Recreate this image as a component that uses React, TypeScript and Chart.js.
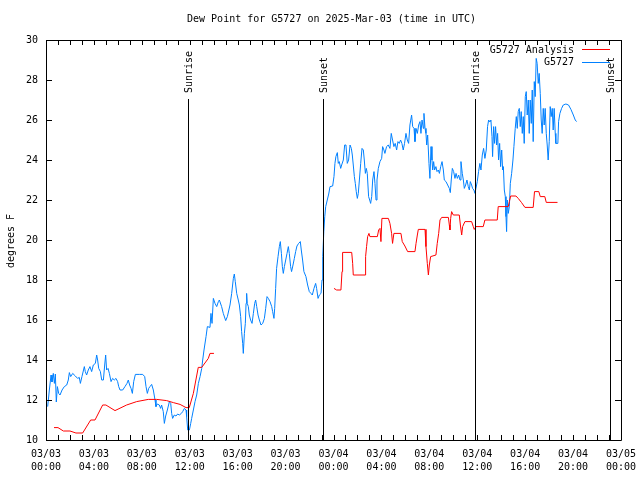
import React, { useEffect, useRef } from "react";
import { Chart, registerables } from "chart.js";

Chart.register(...registerables);

const TITLE = "Dew Point for G5727 on 2025-Mar-03 (time in UTC)";
const Y_LABEL = "degrees F";
const FONT = "'DejaVu Sans Mono', 'Liberation Mono', monospace";

const xTickDates = ["03/03", "03/03", "03/03", "03/03", "03/03", "03/03", "03/04", "03/04", "03/04", "03/04", "03/04", "03/04", "03/05"];
const xTickTimes = ["00:00", "04:00", "08:00", "12:00", "16:00", "20:00", "00:00", "04:00", "08:00", "12:00", "16:00", "20:00", "00:00"];

const sunEventHours = [11.83, 23.15, 35.84, 47.1];
const sunEventLabels = ["Sunrise", "Sunset", "Sunrise", "Sunset"];

const seriesNames = ["G5727 Analysis", "G5727"];
const seriesColors = ["#ff0000", "#0080ff"];

// hours since 03/03 00:00 UTC
const analysisHours = [
  0.67, 1.0, 1.45, 2.0, 2.5, 3.06, 3.73, 4.09, 4.73, 5.0, 5.76, 6.73, 7.57, 8.54, 9.24, 10.07, 10.63, 11.19, 11.69, 11.96,
  12.3, 12.71, 13.0, 13.55, 13.69, 14.02, 19.0,
  24.04, 24.26, 24.62, 24.71, 24.76, 25.52, 25.6, 25.65, 26.63, 26.68, 26.76, 26.85, 26.96, 27.04, 27.66, 27.77, 27.88, 27.96,
  28.04, 28.58, 28.71, 28.85, 28.93, 29.04, 29.63, 29.74, 29.96, 30.19, 30.8, 30.89, 31.0, 31.08, 31.64, 31.72, 31.83, 31.92,
  32.0, 32.11, 32.55, 32.66, 32.78, 32.89, 33.03, 33.59, 33.67, 33.72, 33.78, 33.86, 34.0, 34.5, 34.59, 34.7, 34.78, 34.97,
  35.53, 35.67, 35.75, 35.89, 36.5, 36.64, 37.67, 37.75, 38.59, 38.68, 38.79, 39.23, 39.42, 39.7, 39.98, 40.67, 40.78, 41.14,
  41.26, 41.64, 41.76, 42.7,
];
const analysisValues = [
  10.62, 10.62, 10.45, 10.45, 10.35, 10.35, 11.0, 11.0, 11.75, 11.75, 11.47, 11.75, 11.92, 12.03, 12.03, 11.97, 11.87, 11.78, 11.62, 11.62,
  12.33, 13.63, 13.63, 14.08, 14.33, 14.33, null,
  17.58, 17.5, 17.5, 18.42, 19.38, 19.38, 18.83, 18.25, 18.25, 19.17, 19.67, 20.17, 20.33, 20.17, 20.17, 20.5, 20.58, 19.92,
  21.08, 21.08, 20.83, 20.33, 19.83, 20.33, 20.33, 19.92, 19.7, 19.42, 19.42, 19.83, 20.25, 20.53, 20.53, 19.67, 18.83, 18.25,
  18.75, 19.17, 19.25, 19.83, 20.33, 21.0, 21.13, 21.13, 20.75, 20.5, 21.08, 21.42, 21.25, 21.25, 20.75, 20.25, 20.67, 20.92,
  20.92, 20.67, 20.53, 20.67, 20.67, 21.0, 21.0, 21.67, 21.67, 21.92, 22.2, 22.2, 22.08, 21.87, 21.63, 21.63, 22.42, 22.42,
  22.17, 22.17, 21.88, 21.88,
];

const stationHours = [
  0.14, 0.28, 0.42, 0.5, 0.61, 0.7, 0.78, 0.86, 0.95, 1.06, 1.17, 1.34, 1.53, 1.73, 1.86, 1.95, 2.06, 2.23, 2.45, 2.64,
  2.78, 2.87, 3.0, 3.2, 3.28, 3.39, 3.53, 3.67, 3.81, 3.95, 4.12, 4.23, 4.31, 4.4, 4.54, 4.65, 4.79, 4.9, 4.98, 5.06,
  5.18, 5.29, 5.43, 5.56, 5.7, 5.84, 5.98, 6.07, 6.18, 6.4, 6.59, 6.76, 6.87, 6.98, 7.1, 7.21, 7.32, 7.46, 7.79, 8.07,
  8.24, 8.35, 8.46, 8.57, 8.68, 8.82, 8.96, 9.1, 9.18, 9.29, 9.46, 9.57, 9.65, 9.79, 9.88, 9.99, 10.13, 10.3, 10.41, 10.49,
  10.57, 10.71, 10.85, 10.99, 11.13, 11.3, 11.41, 11.55, 11.69, 11.74, 11.83, 11.97, 12.08, 12.16, 12.3, 12.44, 12.58, 12.72, 12.86, 13.0,
  13.08, 13.19, 13.36, 13.47, 13.69, 13.77, 13.86, 13.97, 14.11, 14.25, 14.39, 14.47, 14.66, 14.8, 15.0, 15.14, 15.36, 15.5, 15.64, 15.72,
  15.8, 15.92, 16.05, 16.14, 16.25, 16.33, 16.42, 16.47, 16.56, 16.64, 16.7, 16.75, 16.8, 16.89, 16.97, 17.08, 17.2, 17.31, 17.42, 17.5,
  17.59, 17.7, 17.81, 17.95, 18.09, 18.23, 18.34, 18.45, 18.56, 18.7, 18.84, 18.92, 19.03, 19.09, 19.17, 19.25, 19.37, 19.48, 19.56, 19.65,
  19.73, 19.81, 19.9, 20.01, 20.12, 20.23, 20.31, 20.42, 20.5, 20.62, 20.73, 20.84, 20.95, 21.09, 21.23, 21.31, 21.42, 21.53, 21.7, 21.84,
  21.98, 22.12, 22.23, 22.37, 22.51, 22.59, 22.71, 22.82, 22.96, 23.04, 23.1, 23.19, 23.27, 23.35, 23.48, 23.6, 23.71, 23.93, 24.04, 24.12,
  24.2, 24.32, 24.4, 24.48, 24.6, 24.68, 24.82, 24.93, 25.04, 25.15, 25.26, 25.38, 25.49, 25.57, 25.65, 25.74, 25.82, 25.9, 25.99, 26.07,
  26.16, 26.27, 26.38, 26.49, 26.57, 26.66, 26.74, 26.82, 26.93, 27.02, 27.1, 27.19, 27.27, 27.38, 27.46, 27.55, 27.63, 27.74, 27.88, 28.02,
  28.1, 28.21, 28.29, 28.43, 28.57, 28.71, 28.82, 28.93, 29.04, 29.15, 29.27, 29.38, 29.49, 29.6, 29.71, 29.82, 29.93, 30.05, 30.16, 30.27,
  30.38, 30.52, 30.61, 30.72, 30.8, 30.89, 31.0, 31.11, 31.22, 31.3, 31.39, 31.5, 31.55, 31.64, 31.72, 31.78, 31.86, 31.97, 32.05, 32.14,
  32.22, 32.28, 32.36, 32.44, 32.55, 32.64, 32.75, 32.84, 32.95, 33.06, 33.17, 33.25, 33.39, 33.53, 33.67, 33.75, 33.83, 33.92, 34.03, 34.14,
  34.23, 34.34, 34.45, 34.56, 34.64, 34.75, 34.84, 34.92, 35.03, 35.14, 35.25, 35.34, 35.42, 35.53, 35.61, 35.72, 35.81, 35.89, 36.0, 36.11,
  36.22, 36.31, 36.42, 36.53, 36.64, 36.75, 36.86, 36.95, 37.06, 37.14, 37.23, 37.28, 37.37, 37.45, 37.53, 37.62, 37.7, 37.78, 37.87, 37.95,
  38.04, 38.12, 38.18, 38.26, 38.34, 38.4, 38.45, 38.51, 38.59, 38.68, 38.76, 38.87, 38.98, 39.06, 39.17, 39.26, 39.34, 39.42, 39.51, 39.59,
  39.67, 39.76, 39.84, 39.92, 40.01, 40.09, 40.17, 40.26, 40.34, 40.42, 40.51, 40.59, 40.67, 40.76, 40.84, 40.92, 41.0, 41.09, 41.17, 41.26,
  41.34, 41.42, 41.51, 41.59, 41.67, 41.76, 41.84, 41.92, 42.01, 42.09, 42.17, 42.26, 42.34, 42.42, 42.51, 42.56, 42.73, 42.79, 42.9, 43.04,
  43.18, 43.4, 43.62, 43.82, 44.02, 44.18, 44.29,
];
const stationValues = [
  11.67, 12.5, 13.25, 12.9, 13.33, 12.83, 13.3, 11.9, 12.67, 12.33, 12.25, 12.5, 12.67, 12.75, 13.0, 13.37, 13.17, 13.33, 13.2, 13.08,
  13.13, 12.83, 13.17, 13.67, 13.42, 13.25, 13.5, 13.67, 13.42, 13.75, 13.83, 14.25, 14.0, 13.58, 13.42, 13.0, 13.0, 13.75, 14.25, 13.5,
  13.58, 13.33, 12.92, 13.08, 13.0, 13.08, 12.92, 12.67, 12.5, 12.5, 12.67, 12.83, 13.0, 12.75, 12.58, 12.33, 12.92, 13.28, 13.28, 13.28,
  13.17, 12.67, 12.33, 12.58, 12.67, 12.78, 12.5, 12.0, 11.67, 11.8, 11.75, 11.58, 11.75, 11.42, 10.83, 11.2, 11.5, 11.92, 11.83, 11.33,
  11.08, 11.25, 11.2, 11.3, 11.25, 11.33, 11.42, 11.58, 11.5, 11.17, 10.5, 10.5, 10.83, 11.08, 11.5, 11.92, 12.25, 12.83, 13.17, 13.58,
  14.0, 14.5, 15.17, 15.67, 15.63, 16.33, 15.83, 17.08, 16.83, 16.67, 16.92, 17.0, 16.67, 16.33, 15.97, 16.17, 16.75, 17.33, 18.08, 18.3,
  17.92, 17.33, 17.0, 16.75, 16.17, 15.42, 14.83, 14.33, 15.33, 15.83, 16.83, 17.33, 16.83, 16.67, 16.25, 16.0, 15.83, 16.33, 16.83, 17.0,
  16.67, 16.25, 16.0, 15.75, 15.83, 16.08, 16.58, 17.17, 17.08, 16.92, 16.67, 16.42, 16.08, 16.58, 17.58, 18.58, 19.17, 19.67, 19.92, 19.33,
  18.67, 18.33, 18.67, 19.0, 19.33, 19.67, 19.33, 18.67, 18.42, 18.75, 19.08, 19.42, 19.7, 19.83, 19.92, 19.5, 19.0, 18.42, 18.17, 17.75,
  17.42, 17.33, 17.25, 17.58, 17.83, 17.58, 17.08, 17.25, 17.33, 18.0, 19.17, 20.42, 21.17, 21.67, 22.0, 22.3, 22.67, 22.7, 23.17, 23.83,
  24.17, 24.37, 23.83, 23.92, 23.58, 23.75, 24.0, 24.75, 24.75, 23.83, 24.0, 24.75, 24.58, 24.25, 23.75, 23.17, 22.83, 22.42, 22.08, 22.33,
  23.0, 23.83, 24.58, 24.5, 24.0, 23.33, 23.58, 23.33, 22.17, 22.0, 21.83, 22.17, 23.0, 23.42, 22.83, 22.0, 23.0, 23.58, 23.92, 24.08,
  24.67, 24.5, 24.33, 24.67, 24.75, 24.58, 25.33, 25.0, 24.67, 24.83, 24.5, 24.92, 24.83, 25.0, 24.83, 24.5, 24.83, 25.33, 25.0, 24.83,
  25.75, 26.25, 25.67, 25.58, 24.92, 25.58, 25.33, 25.75, 25.92, 25.33, 26.0, 25.58, 26.33, 25.58, 25.33, 24.75, 25.25, 23.83, 23.08, 24.67,
  24.0, 23.5, 23.92, 23.5, 23.67, 23.42, 23.5, 23.33, 23.67, 23.92, 23.5, 23.0, 22.92, 22.75, 22.58, 22.37, 23.0, 23.58, 23.42, 23.08,
  23.33, 23.08, 23.25, 23.0, 23.92, 23.33, 23.0, 22.58, 22.75, 23.0, 22.67, 22.5, 22.92, 22.75, 22.58, 22.5, 22.33, 22.58, 22.92, 23.42,
  23.83, 23.5, 24.25, 24.58, 24.08, 24.5, 25.67, 26.0, 25.9, 26.0, 25.17, 24.17, 25.67, 24.83, 25.67, 24.75, 25.33, 24.0, 24.83, 23.67,
  24.5, 23.5, 23.67, 22.5, 22.17, 21.17, 20.42, 22.0, 21.33, 21.67, 22.83, 23.33, 24.0, 24.67, 25.58, 26.17, 25.58, 26.42, 26.58, 25.67,
  26.42, 25.33, 26.17, 24.83, 27.17, 27.42, 26.25, 27.0, 25.33, 27.0, 25.83, 27.5, 24.92, 27.92, 27.17, 29.08, 28.83, 27.83, 28.33, 27.33,
  26.0, 25.33, 26.58, 25.75, 26.58, 25.33, 24.75, 24.0, 24.92, 26.67, 26.17, 26.58, 25.5, 26.58, 25.33, 24.83, 24.83, 25.92, 26.33, 26.58,
  26.75, 26.8, 26.75, 26.53, 26.25, 26.0, 25.92,
];

const toPoints = (hs: number[], vs: (number | null)[]) => hs.map((h, i) => ({ x: h, y: vs[i] }));

const decorPlugin = {
  id: "gnuplotDecor",
  afterDatasetsDraw(chart: any) {
    const { ctx, chartArea } = chart;
    const xs = chart.scales.x;
    const ys = chart.scales.y;
    const L = chartArea.left, R = chartArea.right, T = chartArea.top, B = chartArea.bottom;
    ctx.save();
    ctx.lineWidth = 1;
    ctx.strokeStyle = "#000000";
    // border
    ctx.beginPath();
    ctx.rect(Math.round(L) + 0.5, Math.round(T) + 0.5, Math.round(R - L), Math.round(B - T));
    ctx.stroke();
    // x ticks (hourly), mirrored at top; y ticks mirrored at right
    ctx.beginPath();
    for (let h = 0; h <= 48; h++) {
      const px = Math.round(xs.getPixelForValue(h)) + 0.5;
      ctx.moveTo(px, B);
      ctx.lineTo(px, B - 5);
      ctx.moveTo(px, T);
      ctx.lineTo(px, T + 5);
    }
    for (let v = 10; v <= 30; v += 2) {
      const py = Math.round(ys.getPixelForValue(v)) + 0.5;
      ctx.moveTo(L, py);
      ctx.lineTo(L + 6, py);
      ctx.moveTo(R, py);
      ctx.lineTo(R - 6, py);
    }
    ctx.stroke();
    // sun events
    ctx.font = `10px ${FONT}`;
    ctx.fillStyle = "#000000";
    sunEventHours.forEach((h, i) => {
      const px = Math.round(xs.getPixelForValue(h)) + 0.5;
      ctx.strokeStyle = "#000000";
      ctx.beginPath();
      ctx.moveTo(px, 99);
      ctx.lineTo(px, B);
      ctx.stroke();
      ctx.save();
      ctx.translate(px + 1, 93);
      ctx.rotate(-Math.PI / 2);
      ctx.textAlign = "left";
      ctx.textBaseline = "middle";
      ctx.fillText(sunEventLabels[i], 0, 0);
      ctx.restore();
    });
    ctx.restore();

    // legend
    const rows = [50, 62.5];
    seriesNames.forEach((name, i) => {
      ctx.save();
      ctx.fillStyle = seriesColors[i];
      ctx.fillRect(582, Math.round(rows[i]) - 1, 28, 1);
      ctx.font = `10px ${FONT}`;
      ctx.fillStyle = "#000000";
      ctx.textAlign = "right";
      ctx.textBaseline = "middle";
      ctx.fillText(name, 574, rows[i]);
      ctx.restore();
    });

    // title and y label
    ctx.save();
    ctx.font = `10px ${FONT}`;
    ctx.fillStyle = "#000000";
    ctx.textAlign = "center";
    ctx.textBaseline = "middle";
    ctx.fillText(TITLE, (L + R) / 2 - 2, 19);
    ctx.translate(11, 241);
    ctx.rotate(-Math.PI / 2);
    ctx.fillText(Y_LABEL, 0, 0);
    ctx.restore();
  },
};

export default function App() {
  const ref = useRef<HTMLCanvasElement>(null);
  useEffect(() => {
    if (!ref.current) return;
    const chart = new Chart(ref.current, {
      type: "line",
      data: {
        datasets: [
          {
            label: seriesNames[0],
            data: toPoints(analysisHours, analysisValues) as any,
            borderColor: seriesColors[0],
            borderWidth: 1,
            pointRadius: 0,
            spanGaps: false,
            tension: 0,
          },
          {
            label: seriesNames[1],
            data: toPoints(stationHours, stationValues) as any,
            borderColor: seriesColors[1],
            borderWidth: 1,
            pointRadius: 0,
            spanGaps: false,
            tension: 0,
          },
        ],
      },
      options: {
        animation: false,
        responsive: false,
        events: [],
        layout: { padding: { top: 40, right: 19, left: 0, bottom: 0 } },
        plugins: { legend: { display: false }, title: { display: false }, tooltip: { enabled: false } },
        scales: {
          x: {
            type: "linear",
            min: 0,
            max: 48,
            grid: { display: false, drawTicks: false },
            border: { display: false },
            ticks: {
              stepSize: 4,
              autoSkip: false,
              maxRotation: 0,
              minRotation: 0,
              padding: 8,
              color: "#000",
              font: { family: FONT, size: 10, lineHeight: 1.3 },
              callback: (value: any) => {
                const i = Math.round(Number(value) / 4);
                return [xTickDates[i], xTickTimes[i]];
              },
            },
            afterFit: (scale: any) => {
              scale.height = 40;
              scale.paddingLeft = 0;
              scale.paddingRight = 0;
            },
          },
          y: {
            min: 10,
            max: 30,
            grid: { display: false, drawTicks: false },
            border: { display: false },
            ticks: {
              stepSize: 2,
              padding: 8,
              color: "#000",
              font: { family: FONT, size: 10 },
            },
            afterFit: (scale: any) => {
              scale.width = 46;
            },
          },
        },
      },
      plugins: [decorPlugin],
    });
    return () => chart.destroy();
  }, []);
  return (
    <div style={{ position: "absolute", left: 0, top: 0, width: 640, height: 480, background: "#fff" }}>
      <canvas ref={ref} width={640} height={480} />
    </div>
  );
}
